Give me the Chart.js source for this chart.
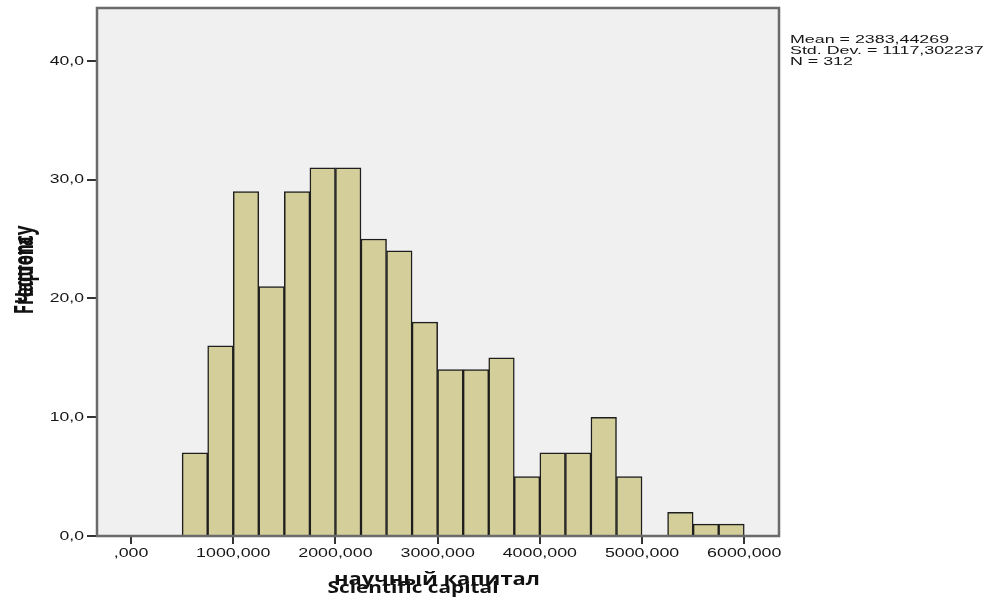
<!DOCTYPE html>
<html>
<head>
<meta charset="utf-8">
<script src="https://cdn.jsdelivr.net/npm/chart.js@4/dist/chart.umd.min.js"></script>
<style>
html,body{margin:0;padding:0;background:#fff;}
#wrap{width:995px;height:603px;position:relative;}
</style>
</head>
<body>
<div id="wrap"><canvas id="c" width="995" height="603"></canvas></div>
<script>
// Bin centres (width 250) of "научный капитал / Scientific capital"
const binCenters = [625, 875, 1125, 1375, 1625, 1875, 2125, 2375, 2625, 2875, 3125, 3375, 3625, 3875, 4125, 4375, 4625, 4875, 5125, 5375, 5625, 5875];
const frequencies = [7, 16, 29, 21, 29, 31, 31, 25, 24, 18, 14, 14, 15, 5, 7, 7, 10, 5, 0, 2, 1, 1];
const xTickValues = [0, 1000, 2000, 3000, 4000, 5000, 6000];
const yTickValues = [0, 10, 20, 30, 40];
const statsLines = ['Mean = 2383,44269', 'Std. Dev. = 1117,302237', 'N = 312'];
const xTitles = ['научный капитал', 'Scientific capital'];
const yTitles = ['Частота', 'Frequency'];

const points = binCenters.map((c, i) => ({x: c, y: frequencies[i]}));
const fmtX = v => (v === 0 ? '' : String(v)) + ',000';
const fmtY = v => v + ',0';

function drawStretched(ctx, text, x, y, sx, align) {
  const w = ctx.measureText(text).width * sx;
  let left = x;
  if (align === 'center') left = x - w / 2;
  else if (align === 'right') left = x - w;
  ctx.save();
  ctx.translate(left, y);
  ctx.scale(sx, 1);
  ctx.textAlign = 'left';
  ctx.fillText(text, 0, 0);
  ctx.restore();
}

const decorPlugin = {
  id: 'decor',
  beforeDraw(chart) {
    const {ctx, chartArea: a} = chart;
    ctx.save();
    ctx.fillStyle = '#f0f0f0';
    ctx.fillRect(a.left, a.top, a.right - a.left, a.bottom - a.top);
    ctx.restore();
  },
  afterDraw(chart) {
    const {ctx, chartArea: a} = chart;
    const xs = chart.scales.x, ys = chart.scales.y;
    ctx.save();
    ctx.strokeStyle = '#6a6a6a';
    ctx.lineWidth = 2.5;
    ctx.strokeRect(a.left, a.top, a.right - a.left, a.bottom - a.top);

    ctx.fillStyle = '#161616';
    ctx.textBaseline = 'middle';
    // tick labels (horizontally widened like the original)
    ctx.font = '13px "Liberation Sans", Arial, sans-serif';
    xTickValues.forEach(v => drawStretched(ctx, fmtX(v), xs.getPixelForValue(v), a.bottom + 17, 1.37, 'center'));
    ctx.font = '13.5px "Liberation Sans", Arial, sans-serif';
    yTickValues.forEach(v => drawStretched(ctx, fmtY(v), a.left - 13, ys.getPixelForValue(v), 1.3, 'right'));

    // stats box
    ctx.font = '11.5px "Liberation Sans", Arial, sans-serif';
    statsLines.forEach((t, i) => drawStretched(ctx, t, a.right + 11, 40 + i * 11, 1.55, 'left'));

    // x titles (overlapping, as in the original)
    ctx.fillStyle = '#111';
    ctx.font = 'bold 18px "Open Sans", sans-serif';
    drawStretched(ctx, xTitles[0], 437, 580, 1.22, 'center');
    ctx.font = 'bold 16px "Open Sans", sans-serif';
    drawStretched(ctx, xTitles[1], 413, 588, 1.3, 'center');

    // y titles (rotated, stretched across the text height)
    ctx.textBaseline = 'alphabetic';
    ctx.textAlign = 'center';
    ctx.translate(33, 270);
    ctx.rotate(-Math.PI / 2);
    ctx.scale(1, 1.6);
    ctx.font = 'bold 16px "Open Sans", sans-serif';
    ctx.fillText(yTitles[0], 0, 0);
    ctx.font = 'bold 17px "Open Sans", sans-serif';
    ctx.fillText(yTitles[1], 0, 0);
    ctx.restore();
  }
};

new Chart(document.getElementById('c'), {
  type: 'bar',
  data: {
    datasets: [{
      data: points,
      backgroundColor: '#d4cf9a',
      borderColor: '#1e1e1e',
      borderWidth: 1.5,
      borderSkipped: 'start',
      categoryPercentage: 1,
      barPercentage: 1
    }]
  },
  options: {
    responsive: false,
    animation: false,
    layout: {padding: {left: 0, top: 8, right: 216, bottom: 0}},
    plugins: {legend: {display: false}, tooltip: {enabled: false}},
    scales: {
      x: {
        type: 'linear',
        offset: false,
        min: -333,
        max: 6340,
        afterBuildTicks(s) { s.ticks = xTickValues.map(v => ({value: v})); },
        afterFit(s) { s.height = 67; },
        grid: {offset: false, drawOnChartArea: false, drawTicks: true, tickLength: 8, color: '#333', lineWidth: 2},
        border: {display: false},
        ticks: {display: false}
      },
      y: {
        min: 0,
        max: 44.45,
        afterBuildTicks(s) { s.ticks = yTickValues.map(v => ({value: v})); },
        afterFit(s) { s.width = 97; },
        grid: {drawOnChartArea: false, drawTicks: true, tickLength: 10, color: '#333', lineWidth: 2},
        border: {display: false},
        ticks: {display: false}
      }
    }
  },
  plugins: [decorPlugin]
});
</script>
</body>
</html>
